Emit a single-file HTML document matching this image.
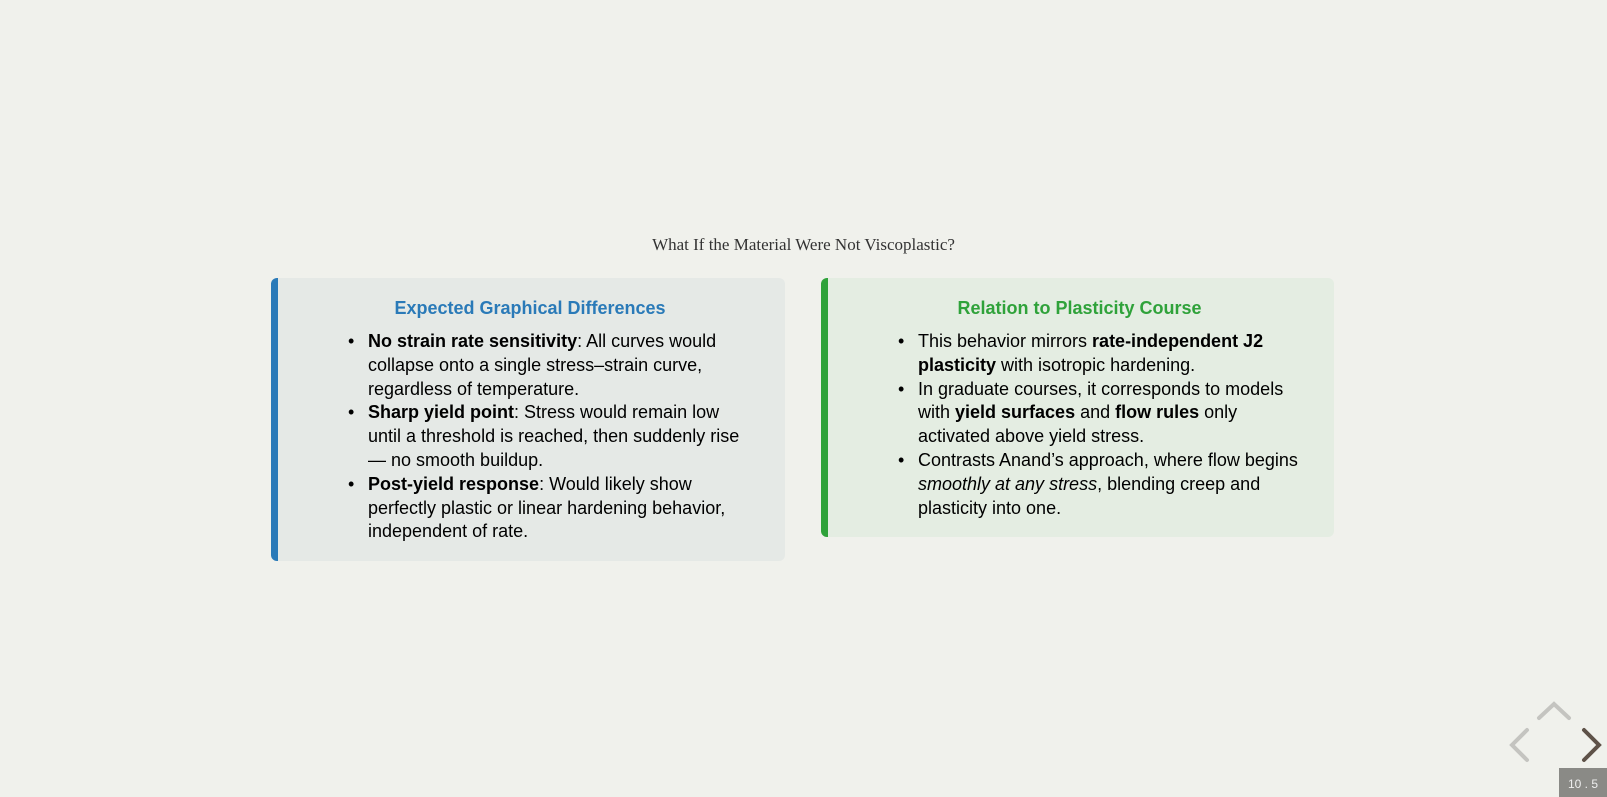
<!DOCTYPE html>
<html><head><meta charset="utf-8"><style>
body{margin:0;width:1607px;height:797px;background:#f0f1ec;position:relative;overflow:hidden;font-family:"Liberation Sans",sans-serif;}
.title{position:absolute;top:235px;left:0;width:1607px;text-align:center;font-family:"Liberation Serif",serif;font-size:17px;color:#333;}
.box{position:absolute;top:278px;border-radius:6px;box-sizing:border-box;}
.l{left:271px;width:514px;height:283px;background:#e5e9e6;border-left:7px solid #2a7ab8;}
.r{left:821px;width:513px;height:259px;background:#e4ede2;border-left:7px solid #2fa23a;}
h3{margin:0;position:absolute;top:20px;left:0;right:0;text-align:center;font-size:18px;font-weight:bold;}
.l h3{color:#2a7ab8;left:-3px}
.r h3{color:#2fa23a;left:-3px}
ul{position:absolute;margin:0;padding:0;list-style:none;font-size:18px;line-height:23.8px;color:#000;top:52px;}
li{position:relative;padding-left:0;}
li:before{content:"•";position:absolute;left:-20px;}
.l ul{left:90px;}
.r ul{left:90px;}
.nav{position:absolute;}
</style></head><body>
<div class="title">What If the Material Were Not Viscoplastic?</div>
<div class="box l"><h3>Expected Graphical Differences</h3>
<ul>
<li><b>No strain rate sensitivity</b>: All curves would<br>collapse onto a single stress–strain curve,<br>regardless of temperature.</li>
<li><b>Sharp yield point</b>: Stress would remain low<br>until a threshold is reached, then suddenly rise<br>— no smooth buildup.</li>
<li><b>Post-yield response</b>: Would likely show<br>perfectly plastic or linear hardening behavior,<br>independent of rate.</li>
</ul></div>
<div class="box r"><h3>Relation to Plasticity Course</h3>
<ul>
<li>This behavior mirrors <b>rate-independent J2<br>plasticity</b> with isotropic hardening.</li>
<li>In graduate courses, it corresponds to models<br>with <b>yield surfaces</b> and <b>flow rules</b> only<br>activated above yield stress.</li>
<li>Contrasts Anand’s approach, where flow begins<br><i>smoothly at any stress</i>, blending creep and<br>plasticity into one.</li>
</ul></div>
<svg class="nav" style="left:1490px;top:690px" width="117" height="107">
<polyline points="49,28 64,14 79,28" fill="none" stroke="#c4c4c0" stroke-width="4" stroke-linecap="round"/>
<polyline points="37,40 22,55 37,70" fill="none" stroke="#c4c4c0" stroke-width="4" stroke-linecap="round"/>
<polyline points="94,40 109,55 94,70" fill="none" stroke="#5e5248" stroke-width="4" stroke-linecap="round"/>
<rect x="69" y="78" width="48" height="29" fill="#8a8a86"/>
<text x="93" y="98" text-anchor="middle" font-family="Liberation Sans" font-size="12" fill="#eee">10 . 5</text>
</svg>
</body></html>
